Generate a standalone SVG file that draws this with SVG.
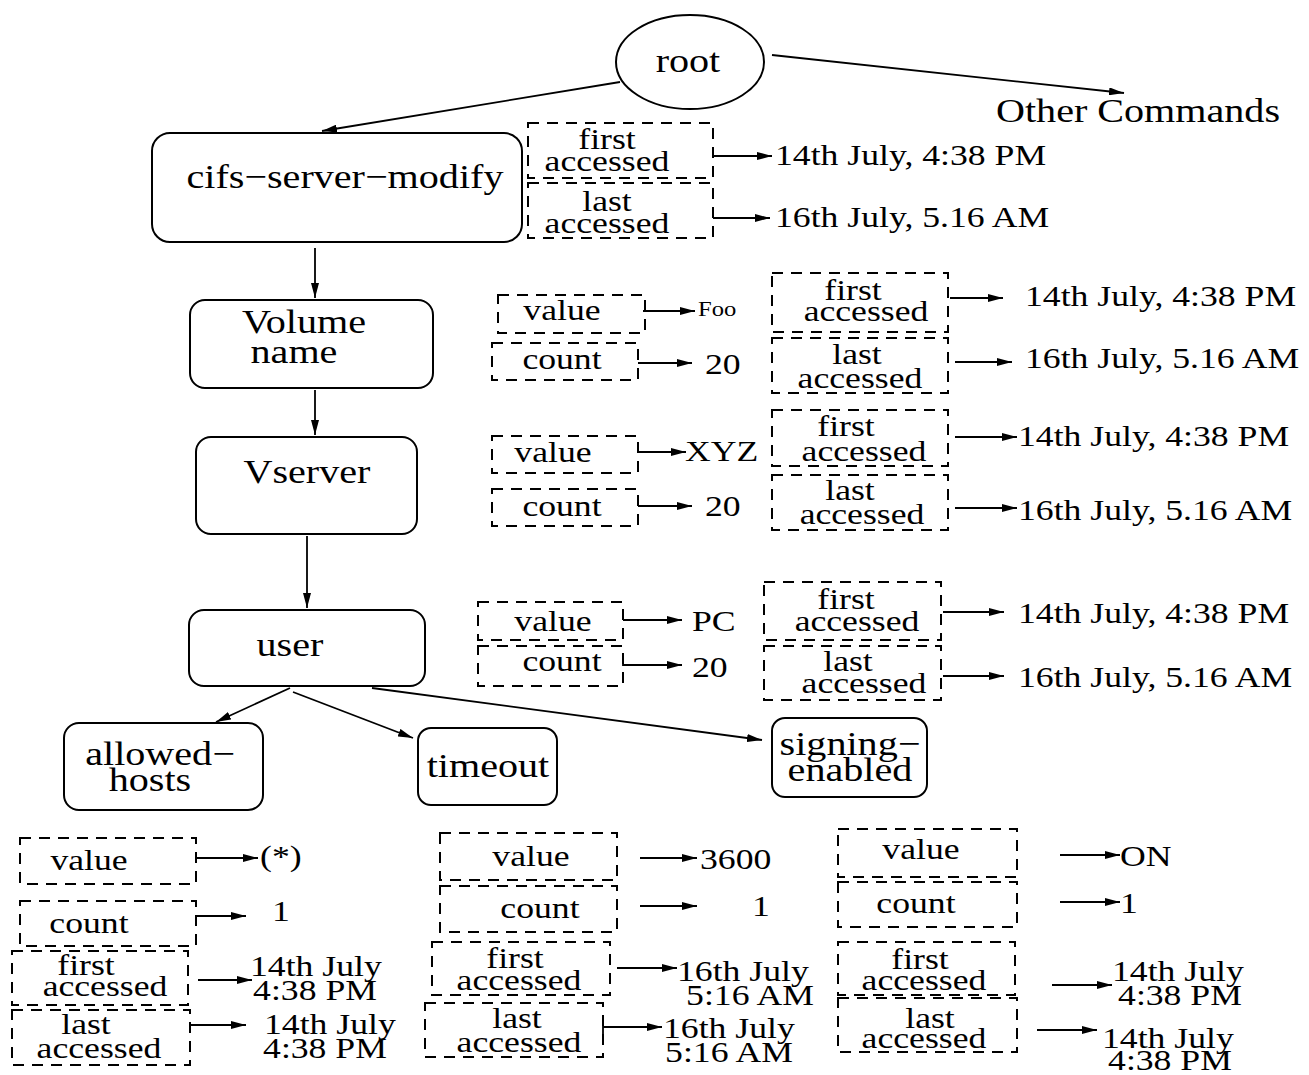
<svg xmlns="http://www.w3.org/2000/svg" width="1309" height="1075" viewBox="0 0 1309 1075">
<style>
.t{font-family:"Liberation Serif","Times New Roman",serif;fill:#000;font-size:29px}
.m{text-anchor:middle;transform-box:fill-box;transform-origin:center;transform:scaleX(1.23)}
.s{text-anchor:start;transform-box:fill-box;transform-origin:left;transform:scaleX(1.23)}
.mb{font-size:34px;text-anchor:middle;transform-box:fill-box;transform-origin:center;transform:scaleX(1.18)}
.sm{font-size:20px}
.n{fill:#fff;stroke:#000;stroke-width:2}
.d{fill:none;stroke:#000;stroke-width:2;stroke-dasharray:11 8}
.c{fill:none;stroke:#000;stroke-width:1.8;marker-end:url(#ah)}
</style>
<defs>
<marker id="ah" markerUnits="userSpaceOnUse" markerWidth="16" markerHeight="8" refX="15" refY="4" orient="auto">
<path d="M0,0 L15,4 L0,8 z" fill="#000"/>
</marker>
</defs>
<rect width="1309" height="1075" fill="#fff"/>

<g id="connectors">
<line class="c" x1="620" y1="82" x2="322" y2="131"/>
<line class="c" x1="772" y1="55" x2="1124" y2="93"/>
<line class="c" x1="315" y1="248" x2="315" y2="298"/>
<line class="c" x1="315" y1="390" x2="315" y2="435"/>
<line class="c" x1="307" y1="536" x2="307" y2="608"/>
<line class="c" x1="290" y1="688" x2="216" y2="722"/>
<line class="c" x1="293" y1="692" x2="413" y2="738"/>
<line class="c" x1="372" y1="688" x2="762" y2="740"/>
<line class="c" x1="713" y1="156" x2="772" y2="156"/>
<line class="c" x1="713" y1="218" x2="770" y2="218"/>
<line class="c" x1="643" y1="311" x2="695" y2="311"/>
<line class="c" x1="638" y1="363" x2="692" y2="363"/>
<line class="c" x1="950" y1="298" x2="1003" y2="298"/>
<line class="c" x1="955" y1="362" x2="1012" y2="362"/>
<line class="c" x1="638" y1="452" x2="686" y2="452"/>
<line class="c" x1="638" y1="506" x2="692" y2="506"/>
<line class="c" x1="955" y1="437" x2="1017" y2="437"/>
<line class="c" x1="955" y1="508" x2="1017" y2="508"/>
<line class="c" x1="623" y1="620" x2="682" y2="620"/>
<polyline class="c" points="623,655 623,665 682,665"/>
<line class="c" x1="943" y1="612" x2="1004" y2="612"/>
<line class="c" x1="943" y1="676" x2="1004" y2="676"/>
<line class="c" x1="196" y1="858" x2="258" y2="858"/>
<line class="c" x1="196" y1="916" x2="246" y2="916"/>
<line class="c" x1="198" y1="980" x2="252" y2="980"/>
<line class="c" x1="190" y1="1025" x2="246" y2="1025"/>
<line class="c" x1="640" y1="858" x2="697" y2="858"/>
<line class="c" x1="640" y1="906" x2="697" y2="906"/>
<line class="c" x1="617" y1="968" x2="677" y2="968"/>
<polyline class="c" points="603,1035 603,1027 662,1027"/>
<line class="c" x1="1060" y1="855" x2="1120" y2="855"/>
<line class="c" x1="1060" y1="902" x2="1120" y2="902"/>
<line class="c" x1="1052" y1="985" x2="1112" y2="985"/>
<line class="c" x1="1037" y1="1030" x2="1097" y2="1030"/>
</g>

<g id="root"><ellipse class="n" cx="690" cy="62" rx="74" ry="47"/><text class="t mb" x="688" y="72">root</text></g>
<g id="other-commands"><text class="t mb" x="1138" y="122">Other Commands</text></g>

<g id="cifs-server-modify"><rect class="n" x="152" y="133" width="370" height="109" rx="18"/><text class="t mb" x="345" y="188">cifs−server−modify</text></g>
<g id="cifs-first"><rect class="d" x="528" y="123" width="185" height="55"/><text class="t m" x="607" y="149">first</text><text class="t m" x="607" y="171">accessed</text></g>
<g id="cifs-last"><rect class="d" x="528" y="183" width="185" height="55"/><text class="t m" x="607" y="211">last</text><text class="t m" x="607" y="233">accessed</text></g>
<g id="cifs-first-val"><text class="t s" x="775" y="165">14th July, 4:38 PM</text></g>
<g id="cifs-last-val"><text class="t s" x="775" y="227">16th July, 5.16 AM</text></g>

<g id="volume-name"><rect class="n" x="190" y="300" width="243" height="88" rx="15"/><text class="t mb" x="304" y="333">Volume</text><text class="t mb" x="294" y="363">name</text></g>
<g id="vol-value"><rect class="d" x="498" y="295" width="147" height="38"/><text class="t m" x="562" y="320">value</text></g>
<g id="vol-value-val"><text class="t s sm" x="698" y="316">Foo</text></g>
<g id="vol-count"><rect class="d" x="492" y="343" width="146" height="37"/><text class="t m" x="562" y="369">count</text></g>
<g id="vol-count-val"><text class="t s" x="705" y="374">20</text></g>
<g id="vol-first"><rect class="d" x="772" y="273" width="176" height="59"/><text class="t m" x="853" y="300">first</text><text class="t m" x="866" y="321">accessed</text></g>
<g id="vol-last"><rect class="d" x="772" y="338" width="176" height="55"/><text class="t m" x="857" y="364">last</text><text class="t m" x="860" y="388">accessed</text></g>
<g id="vol-first-val"><text class="t s" x="1025" y="306">14th July, 4:38 PM</text></g>
<g id="vol-last-val"><text class="t s" x="1025" y="368">16th July, 5.16 AM</text></g>

<g id="vserver"><rect class="n" x="196" y="437" width="221" height="97" rx="15"/><text class="t mb" x="307" y="483">Vserver</text></g>
<g id="vs-value"><rect class="d" x="492" y="436" width="146" height="37"/><text class="t m" x="553" y="462">value</text></g>
<g id="vs-value-val"><text class="t s" x="685" y="461">XYZ</text></g>
<g id="vs-count"><rect class="d" x="492" y="489" width="146" height="37"/><text class="t m" x="562" y="516">count</text></g>
<g id="vs-count-val"><text class="t s" x="705" y="516">20</text></g>
<g id="vs-first"><rect class="d" x="772" y="410" width="176" height="56"/><text class="t m" x="846" y="436">first</text><text class="t m" x="864" y="461">accessed</text></g>
<g id="vs-last"><rect class="d" x="772" y="475" width="176" height="55"/><text class="t m" x="850" y="500">last</text><text class="t m" x="862" y="524">accessed</text></g>
<g id="vs-first-val"><text class="t s" x="1018" y="446">14th July, 4:38 PM</text></g>
<g id="vs-last-val"><text class="t s" x="1018" y="520">16th July, 5.16 AM</text></g>

<g id="user"><rect class="n" x="189" y="610" width="236" height="76" rx="15"/><text class="t mb" x="290" y="656">user</text></g>
<g id="user-value"><rect class="d" x="478" y="602" width="145" height="38"/><text class="t m" x="553" y="631">value</text></g>
<g id="user-value-val"><text class="t s" x="692" y="631">PC</text></g>
<g id="user-count"><rect class="d" x="478" y="646" width="145" height="40"/><text class="t m" x="562" y="671">count</text></g>
<g id="user-count-val"><text class="t s" x="692" y="677">20</text></g>
<g id="user-first"><rect class="d" x="764" y="582" width="177" height="58"/><text class="t m" x="846" y="609">first</text><text class="t m" x="857" y="631">accessed</text></g>
<g id="user-last"><rect class="d" x="764" y="646" width="177" height="54"/><text class="t m" x="848" y="671">last</text><text class="t m" x="864" y="693">accessed</text></g>
<g id="user-first-val"><text class="t s" x="1018" y="623">14th July, 4:38 PM</text></g>
<g id="user-last-val"><text class="t s" x="1018" y="687">16th July, 5.16 AM</text></g>

<g id="allowed-hosts"><rect class="n" x="64" y="723" width="199" height="87" rx="15"/><text class="t mb" x="160" y="765">allowed−</text><text class="t mb" x="150" y="791">hosts</text></g>
<g id="timeout"><rect class="n" x="418" y="728" width="139" height="77" rx="13"/><text class="t mb" x="488" y="777">timeout</text></g>
<g id="signing-enabled"><rect class="n" x="772" y="718" width="155" height="79" rx="13"/><text class="t mb" x="850" y="755">signing−</text><text class="t mb" x="850" y="781">enabled</text></g>

<g id="ah-value"><rect class="d" x="20" y="838" width="176" height="46"/><text class="t m" x="89" y="870">value</text></g>
<g id="ah-value-val"><text class="t s" x="260" y="866">(*)</text></g>
<g id="ah-count"><rect class="d" x="20" y="901" width="176" height="45"/><text class="t m" x="89" y="933">count</text></g>
<g id="ah-count-val"><text class="t s" x="272" y="921">1</text></g>
<g id="ah-first"><rect class="d" x="12" y="951" width="176" height="54"/><text class="t m" x="86" y="975">first</text><text class="t m" x="105" y="996">accessed</text></g>
<g id="ah-last"><rect class="d" x="12" y="1010" width="178" height="55"/><text class="t m" x="86" y="1034">last</text><text class="t m" x="99" y="1058">accessed</text></g>
<g id="ah-first-val"><text class="t m" x="316" y="976">14th July</text><text class="t m" x="315" y="1000">4:38 PM</text></g>
<g id="ah-last-val"><text class="t m" x="330" y="1034">14th July</text><text class="t m" x="325" y="1058">4:38 PM</text></g>

<g id="to-value"><rect class="d" x="440" y="833" width="177" height="47"/><text class="t m" x="531" y="866">value</text></g>
<g id="to-value-val"><text class="t s" x="700" y="869">3600</text></g>
<g id="to-count"><rect class="d" x="440" y="886" width="177" height="46"/><text class="t m" x="540" y="918">count</text></g>
<g id="to-count-val"><text class="t s" x="752" y="916">1</text></g>
<g id="to-first"><rect class="d" x="432" y="942" width="178" height="53"/><text class="t m" x="515" y="968">first</text><text class="t m" x="519" y="990">accessed</text></g>
<g id="to-last"><rect class="d" x="425" y="1003" width="178" height="54"/><text class="t m" x="517" y="1028">last</text><text class="t m" x="519" y="1052">accessed</text></g>
<g id="to-first-val"><text class="t m" x="743" y="981">16th July</text><text class="t m" x="750" y="1005">5:16 AM</text></g>
<g id="to-last-val"><text class="t m" x="729" y="1038">16th July</text><text class="t m" x="729" y="1062">5:16 AM</text></g>

<g id="se-value"><rect class="d" x="838" y="829" width="179" height="48"/><text class="t m" x="921" y="859">value</text></g>
<g id="se-value-val"><text class="t s" x="1120" y="866">ON</text></g>
<g id="se-count"><rect class="d" x="838" y="882" width="179" height="45"/><text class="t m" x="916" y="913">count</text></g>
<g id="se-count-val"><text class="t s" x="1120" y="913">1</text></g>
<g id="se-first"><rect class="d" x="838" y="942" width="177" height="53"/><text class="t m" x="920" y="969">first</text><text class="t m" x="924" y="990">accessed</text></g>
<g id="se-last"><rect class="d" x="838" y="998" width="179" height="54"/><text class="t m" x="930" y="1028">last</text><text class="t m" x="924" y="1048">accessed</text></g>
<g id="se-first-val"><text class="t m" x="1178" y="981">14th July</text><text class="t m" x="1180" y="1005">4:38 PM</text></g>
<g id="se-last-val"><text class="t m" x="1168" y="1048">14th July</text><text class="t m" x="1170" y="1070">4:38 PM</text></g>
</svg>
